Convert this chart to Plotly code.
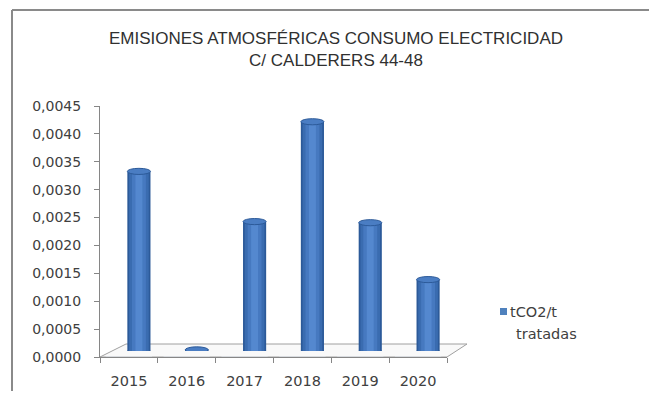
import plotly.graph_objects as go

years = ["2015", "2016", "2017", "2018", "2019", "2020"]
values = [0.00322, 0.00002, 0.00232, 0.00411, 0.00230, 0.00128]
y_ticks = [0.0, 0.0005, 0.0010, 0.0015, 0.0020, 0.0025, 0.0030, 0.0035, 0.0040, 0.0045]
legend_lines = ["tCO2/t", "tratadas"]
title_text = "EMISIONES ATMOSFÉRICAS CONSUMO ELECTRICIDAD<br>C/ CALDERERS 44-48"

# page body has an 8px margin: size the figure to fit the window exactly
OFF = 8
W, H = 657 - 2 * OFF, 399 - 2 * OFF
def px(x): return (x - OFF) / W
def py(y): return 1 - (y - OFF) / H

AX = "#868686"
FONT = "DejaVu Sans"
TXT = "#404040"
BLUE = "#4f81bd"

fig = go.Figure()

# invisible trace on the front axes to hold categories
fig.add_trace(go.Bar(x=years, y=[0]*len(years), xaxis="x", yaxis="y",
                     marker_color="rgba(0,0,0,0)", showlegend=False, hoverinfo="skip"))

# cylinder shading: layered bars of decreasing width
layers = [(0.40, "#2c5a99"), (0.34, "#3a6cb0"), (0.24, "#4679c0"), (0.12, "#5488cf")]
for w, c in layers:
    fig.add_trace(go.Bar(x=years, y=values, xaxis="x2", yaxis="y2", width=w,
                         marker=dict(color=c, line_width=0), showlegend=False,
                         name="tCO2/t tratadas"))

shapes = []
cap_h = 0.000055
for i, v in enumerate(values):
    shapes.append(dict(type="circle", xref="x2", yref="y2", x0=i-0.2, x1=i+0.2,
                       y0=-cap_h, y1=cap_h, fillcolor="#2c5a99", line_width=0, layer="below"))
    shapes.append(dict(type="circle", xref="x2", yref="y2", x0=i-0.2, x1=i+0.2,
                       y0=v-cap_h, y1=v+cap_h, fillcolor="#4a7dc3",
                       line=dict(color="#2c5a99", width=1), layer="above"))

# 3D floor
shapes.append(dict(type="path", xref="paper", yref="paper",
                   path=f"M {px(100)},{py(357)} L {px(126)},{py(344)} L {px(467)},{py(344)} L {px(447)},{py(357)} Z",
                   line=dict(color="#a0a0a0", width=1), fillcolor="rgba(245,245,245,0.6)", layer="below"))
# chart frame (cropped at right/bottom)
shapes.append(dict(type="line", xref="paper", yref="paper", x0=px(12), x1=px(12), y0=py(10), y1=0,
                   line=dict(color="#8a8a8a", width=2)))
shapes.append(dict(type="line", xref="paper", yref="paper", x0=px(12), x1=1, y0=py(10), y1=py(10),
                   line=dict(color="#8a8a8a", width=2)))
# legend key
shapes.append(dict(type="rect", xref="paper", yref="paper", x0=px(500), x1=px(507),
                   y0=py(315), y1=py(308), fillcolor=BLUE, line_width=0))

annotations = [
    dict(text=legend_lines[0], x=px(508), y=py(312), xref="paper", yref="paper",
         xanchor="left", yanchor="middle", showarrow=False,
         font=dict(family=FONT, size=14.5, color=TXT)),
    dict(text=legend_lines[1], x=px(514), y=py(334), xref="paper", yref="paper",
         xanchor="left", yanchor="middle", showarrow=False,
         font=dict(family=FONT, size=14.5, color=TXT)),
]

fig.update_layout(
    width=W, height=H,
    margin=dict(l=0, r=0, t=0, b=0, autoexpand=False),
    paper_bgcolor="white", plot_bgcolor="rgba(0,0,0,0)",
    separators=",.",
    barmode="overlay",
    showlegend=False,
    font=dict(family=FONT, size=14, color=TXT),
    title=dict(text=title_text, x=px(336), xanchor="center", y=py(44), yanchor="middle",
               xref="paper", yref="paper",
               font=dict(family="Liberation Sans", size=17, color="#303030")),
    xaxis=dict(domain=[px(100), px(447)], type="category", categoryarray=years,
               showline=True, linecolor=AX, linewidth=1, ticks="outside", ticklen=5,
               tickcolor=AX, tickson="boundaries", showgrid=False, zeroline=False,
               automargin=False, ticklabelstandoff=11,
               tickfont=dict(size=14.5, color=TXT), anchor="y"),
    yaxis=dict(domain=[py(357), py(106)], range=[0, 0.0045], tickvals=y_ticks,
               tickformat=".4f", showline=True, linecolor=AX, linewidth=1,
               ticks="outside", ticklen=5, tickcolor=AX, showgrid=False, zeroline=False,
               automargin=False, ticklabelstandoff=10,
               tickfont=dict(size=14, color=TXT), anchor="x"),
    xaxis2=dict(domain=[px(110), px(457)], type="category", categoryarray=years,
                visible=False, anchor="y2", automargin=False),
    yaxis2=dict(domain=[py(351), py(100)], range=[0, 0.0045], visible=False,
                anchor="x2", automargin=False),
    shapes=shapes,
    annotations=annotations,
)

fig.write_html("out.html")
